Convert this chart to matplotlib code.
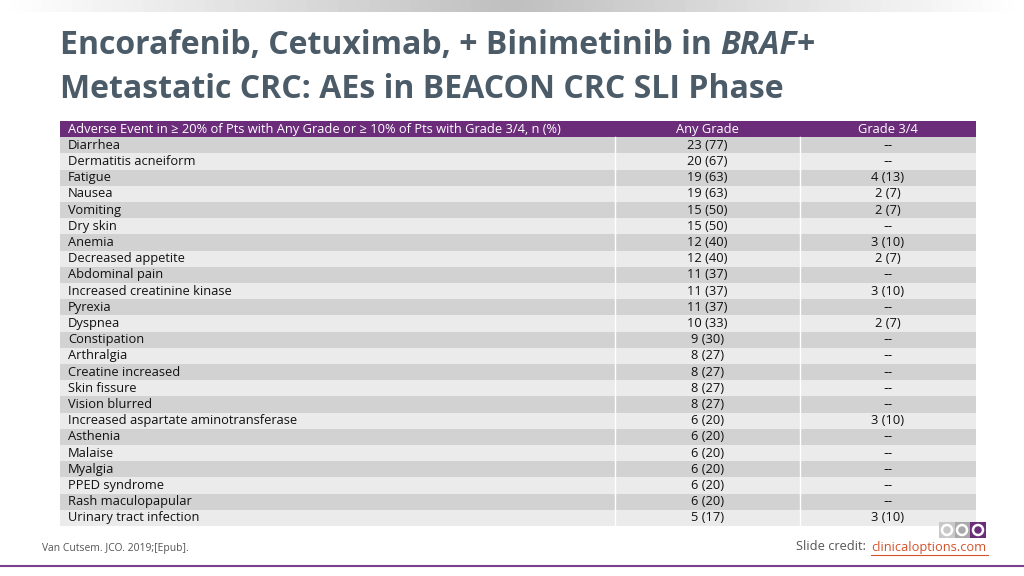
import matplotlib
matplotlib.use("Agg")
import matplotlib.pyplot as plt
import numpy as np
from matplotlib.patches import Rectangle, Circle

events = ["Diarrhea", "Dermatitis acneiform", "Fatigue", "Nausea", "Vomiting", "Dry skin",
          "Anemia", "Decreased appetite", "Abdominal pain", "Increased creatinine kinase",
          "Pyrexia", "Dyspnea", "Constipation", "Arthralgia", "Creatine increased",
          "Skin fissure", "Vision blurred", "Increased aspartate aminotransferase",
          "Asthenia", "Malaise", "Myalgia", "PPED syndrome", "Rash maculopapular",
          "Urinary tract infection"]
any_grade = ["23 (77)", "20 (67)", "19 (63)", "19 (63)", "15 (50)", "15 (50)", "12 (40)",
             "12 (40)", "11 (37)", "11 (37)", "11 (37)", "10 (33)", "9 (30)", "8 (27)",
             "8 (27)", "8 (27)", "8 (27)", "6 (20)", "6 (20)", "6 (20)", "6 (20)", "6 (20)",
             "6 (20)", "5 (17)"]
grade34 = ["--", "--", "4 (13)", "2 (7)", "2 (7)", "--", "3 (10)", "2 (7)", "--", "3 (10)",
           "--", "2 (7)", "--", "--", "--", "--", "--", "3 (10)", "--", "--", "--", "--",
           "--", "3 (10)"]
headers = ["Adverse Event in \u2265 20% of Pts with Any Grade or \u2265 10% of Pts with Grade 3/4, n (%)",
           "Any Grade", "Grade 3/4"]

F = "Open Sans"
fig = plt.figure(figsize=(10.24, 5.76), dpi=100)
ax = fig.add_axes([0, 0, 1, 1])
ax.set_xlim(0, 1024); ax.set_ylim(576, 0); ax.axis("off")

grad = np.concatenate([np.linspace(1, 0.75, 50), np.linspace(0.75, 1, 50)])
ax.imshow(np.tile(grad, (2, 1)), cmap="gray", vmin=0, vmax=1, extent=[0, 1024, 12, 0], aspect="auto")

tc = "#4b5b67"
tfs = 23
t1 = ax.text(60, 45, "Encorafenib, Cetuximab, + Binimetinib in ", fontsize=tfs, fontweight="bold",
             color=tc, family=F, va="center")
t2 = ax.annotate("BRAF", xy=(1, 0.5), xycoords=t1, fontsize=tfs, fontweight="bold", style="italic",
                 color=tc, family=F, va="center", ha="left")
ax.annotate("+", xy=(1, 0.5), xycoords=t2, fontsize=tfs, fontweight="bold",
            color=tc, family=F, va="center", ha="left")
ax.text(60, 90, "Metastatic CRC: AEs in BEACON CRC SLI Phase", fontsize=tfs, fontweight="bold",
        color=tc, family=F, va="center")

x0, x1, x2, x3 = 60, 615, 800, 976
ytop, hh = 121, 16.2
ax.add_patch(Rectangle((x0, ytop), x3 - x0, hh, color="#6b2c7a", lw=0))
fs = 9.3
ax.text(x0 + 8, ytop + hh / 2, headers[0], color="white", fontsize=fs, family=F, va="center")
ax.text((x1 + x2) / 2, ytop + hh / 2, headers[1], color="white", fontsize=fs, family=F, va="center", ha="center")
ax.text((x2 + x3) / 2, ytop + hh / 2, headers[2], color="white", fontsize=fs, family=F, va="center", ha="center")
for i, (e, a, g) in enumerate(zip(events, any_grade, grade34)):
    y = ytop + hh * (i + 1)
    ax.add_patch(Rectangle((x0, y), x3 - x0, hh, color="#d2d2d2" if i % 2 == 0 else "#ebebeb", lw=0))
    ax.plot([x1, x1], [y, y + hh], color="white", lw=1)
    ax.plot([x2, x2], [y, y + hh], color="white", lw=1)
    ax.text(x0 + 8, y + hh / 2, e, fontsize=fs, family=F, va="center", color="#111111")
    ax.text((x1 + x2) / 2, y + hh / 2, a, fontsize=fs, family=F, va="center", ha="center", color="#111111")
    ax.text((x2 + x3) / 2, y + hh / 2, g, fontsize=fs, family=(F if g != "--" else "DejaVu Sans"),
            va="center", ha="center", color="#111111")

ax.add_patch(Rectangle((939, 522), 16, 16, color="#c8c8c8", lw=0))
ax.add_patch(Rectangle((955, 522), 15, 16, color="#a9a9a9", lw=0))
ax.add_patch(Rectangle((970, 522), 16, 16, color="#6b2c7a", lw=0))
for cx in (947, 962, 978):
    ax.add_patch(Circle((cx, 530), 5, fill=False, ec="white", lw=1.8))

ax.text(42, 549, "Van Cutsem. JCO. 2019;[Epub].", fontsize=7.5, color="#555555", va="center", family=F)
ax.text(869, 547, "Slide credit: ", fontsize=9.3, color="#555555", va="center", ha="right", family=F)
ax.text(871, 547, "clinicaloptions.com", fontsize=9.3, color="#d2522a", va="center", family=F)
ax.plot([871, 988], [555, 555], color="#d2522a", lw=0.8)
ax.plot([0, 1024], [566, 566], color="#7a3f8e", lw=1.5)

fig.savefig("out.png", dpi=100)
